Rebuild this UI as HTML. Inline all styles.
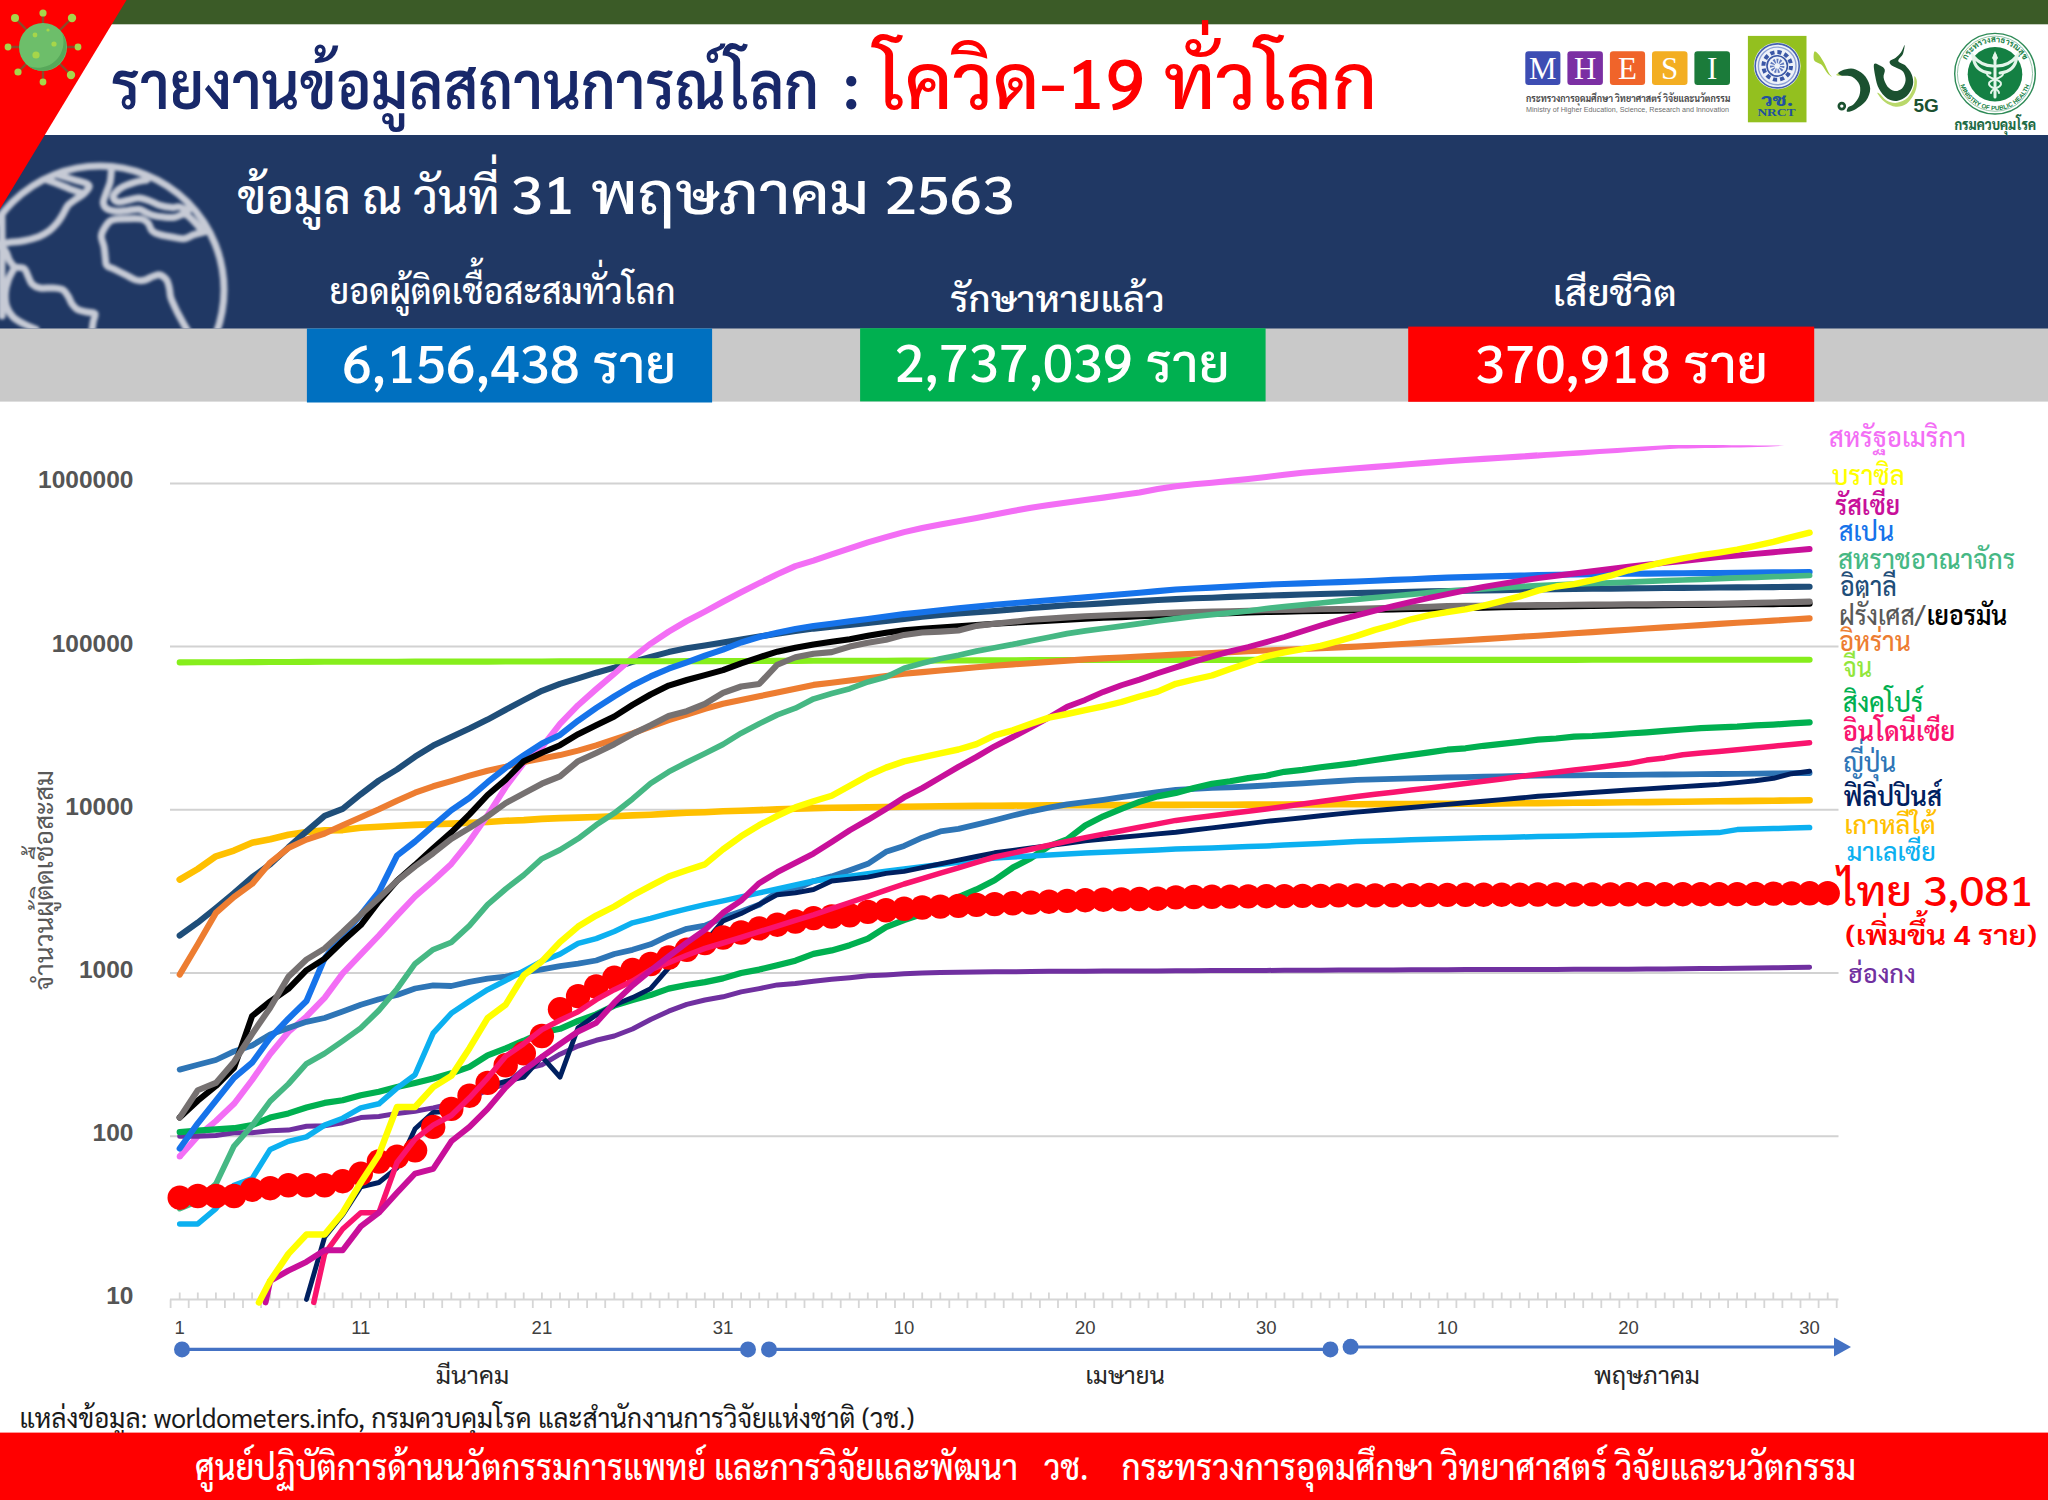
<!DOCTYPE html>
<html lang="th">
<head>
<meta charset="utf-8">
<title>รายงานข้อมูลสถานการณ์โลก : โควิด-19 ทั่วโลก</title>
<style>
html,body{margin:0;padding:0;background:#fff;}
body{width:2048px;height:1500px;overflow:hidden;position:relative;font-family:"Sarabun","Liberation Sans","Loma","Noto Sans Thai",sans-serif;}
svg{position:absolute;left:0;top:0;display:block;}
.th{font-family:"Sarabun","Liberation Sans","Loma","Noto Sans Thai",sans-serif;}
.ls{font-family:"Liberation Sans","Sarabun",sans-serif;}
.se{font-family:"Liberation Serif","Sarabun",serif;}
</style>
</head>
<body>
<svg width="2048" height="1500" viewBox="0 0 2048 1500">
<defs>
<filter id="blur1" x="-5%" y="-5%" width="110%" height="110%"><feGaussianBlur stdDeviation="1.4"/></filter>
<clipPath id="navyclip"><rect x="0" y="135" width="2048" height="193.5"/></clipPath>
<clipPath id="globeclip"><circle cx="100" cy="290" r="126"/></clipPath>
</defs>
<!-- backgrounds -->
<rect x="0" y="0" width="2048" height="1500" fill="#ffffff"/>
<rect x="0" y="0" width="2048" height="24.3" fill="#3B5B27"/>
<rect x="0" y="135" width="2048" height="194" fill="#203864"/>
<rect x="0" y="328.5" width="2048" height="73.1" fill="#C9C9C9"/>
<!-- globe -->
<g clip-path="url(#navyclip)"><g filter="url(#blur1)" fill="none" stroke="#C6CAD5" stroke-width="7" stroke-linejoin="round" stroke-linecap="round">
<circle cx="100" cy="290" r="124"/>
<g clip-path="url(#globeclip)">
<path d="M146.7 180.0 C144.7 180.4 138.7 181.2 134.7 182.4 C130.7 183.6 125.9 185.2 122.7 186.9 C119.4 188.6 116.9 190.8 115.3 192.7 C113.8 194.5 112.8 196.4 113.3 198.0 C113.9 199.6 116.2 201.6 118.7 202.0 C121.1 202.4 124.7 200.9 128.0 200.3 C131.3 199.6 135.1 197.9 138.7 198.0 C142.2 198.1 145.8 199.4 149.3 200.7 C152.9 201.9 156.2 204.2 160.0 205.3 C163.8 206.5 168.8 207.3 172.0 207.6 C175.2 207.9 176.7 206.4 179.3 206.9 C182.0 207.4 186.6 210.0 188.0 210.7"/>
<path d="M111.3 171.3 C111.1 173.2 110.9 179.0 110.0 182.7 C109.1 186.3 107.1 190.0 106.0 193.3 C104.9 196.7 103.2 200.1 103.3 202.7 C103.4 205.2 104.6 207.2 106.7 208.7 C108.8 210.1 112.4 211.0 116.0 211.3 C119.6 211.6 124.2 210.7 128.0 210.4 C131.8 210.1 135.6 209.0 138.7 209.3 C141.8 209.7 144.2 211.7 146.7 212.7 C149.1 213.7 150.4 214.6 153.3 215.3 C156.2 216.1 160.4 216.7 164.0 217.1 C167.6 217.4 171.2 217.8 174.7 217.3 C178.1 216.8 181.8 213.8 184.7 214.1 C187.6 214.5 189.4 217.0 192.0 219.3 C194.6 221.6 198.7 226.6 200.0 228.0"/>
<path d="M58.0 174.9 C60.8 175.8 70.0 178.6 74.7 180.0 C79.3 181.4 83.6 182.2 86.0 183.3 C88.4 184.5 89.6 185.0 89.1 186.9 C88.5 188.8 85.1 192.5 82.7 194.7 C80.3 196.8 77.1 198.2 74.7 200.0 C72.2 201.8 70.0 202.9 68.0 205.3 C66.0 207.8 64.4 211.8 62.7 214.7 C60.9 217.6 59.6 220.0 57.3 222.7 C55.1 225.3 52.4 228.3 49.3 230.7 C46.2 233.0 42.9 235.0 38.7 236.7 C34.4 238.3 29.1 239.7 24.0 240.7 C18.9 241.7 12.4 242.1 8.0 242.7 C3.6 243.3 -0.9 244.0 -2.7 244.3"/>
<path d="M42.7 178.4 C45.1 179.3 52.9 182.0 57.3 183.7 C61.8 185.4 65.6 187.2 69.3 188.7 C73.1 190.1 78.2 191.7 80.0 192.3"/>
<path d="M209.3 230.7 C208.2 230.9 205.3 231.6 202.7 232.3 C200.0 233.0 196.4 233.9 193.3 234.9 C190.2 236.0 187.3 238.3 184.0 238.7 C180.7 239.1 177.3 238.0 173.3 237.3 C169.3 236.7 163.6 235.8 160.0 234.7 C156.4 233.6 154.0 232.6 152.0 230.7 C150.0 228.7 149.8 224.9 148.0 222.9 C146.2 221.0 144.9 219.6 141.3 218.9 C137.8 218.2 131.6 218.5 126.7 218.7 C121.8 218.8 115.6 218.7 112.0 220.0 C108.4 221.3 107.1 224.0 105.3 226.7 C103.6 229.3 101.6 232.7 101.3 236.0 C101.1 239.3 103.3 243.1 104.0 246.7 C104.7 250.2 104.9 254.2 105.3 257.3 C105.8 260.4 105.1 263.3 106.7 265.3 C108.2 267.3 111.6 267.8 114.7 269.3 C117.8 270.9 121.8 272.9 125.3 274.7 C128.9 276.4 132.9 279.1 136.0 280.0 C139.1 280.9 141.1 280.9 144.0 280.3 C146.9 279.6 150.7 277.2 153.3 276.3 C156.0 275.4 157.8 274.3 160.0 274.9 C162.2 275.6 165.1 277.8 166.7 280.0 C168.2 282.2 168.7 285.1 169.3 288.0 C170.0 290.9 169.8 294.2 170.7 297.3 C171.6 300.4 173.1 303.3 174.7 306.7 C176.2 310.0 178.2 314.0 180.0 317.3 C181.8 320.7 183.8 324.0 185.3 326.7 C186.9 329.3 188.7 332.2 189.3 333.3"/>
<path d="M-2.7 245.3 C-1.3 246.2 3.3 248.2 5.3 250.7 C7.3 253.1 7.8 257.3 9.3 260.0 C10.9 262.7 12.2 265.3 14.7 266.7 C17.1 268.0 21.8 266.7 24.0 268.3 C26.2 269.8 26.7 273.4 28.0 276.0 C29.3 278.6 30.0 282.0 32.0 284.0 C34.0 286.0 36.4 287.3 40.0 288.0 C43.6 288.7 49.6 287.7 53.3 288.0 C57.1 288.3 60.2 288.3 62.7 289.6 C65.1 290.9 66.4 293.6 68.0 296.0 C69.6 298.4 70.4 301.8 72.0 304.0 C73.6 306.2 74.9 308.0 77.3 309.3 C79.8 310.7 83.7 311.3 86.7 312.0 C89.6 312.7 93.8 312.0 94.9 313.6 C96.0 315.2 93.9 318.3 93.3 321.3 C92.8 324.4 92.0 330.2 91.7 332.0"/>
<path d="M14.7 267.3 C13.6 269.4 9.8 275.7 8.3 280.0 C6.7 284.3 5.6 288.9 5.3 293.3 C5.1 297.8 5.3 302.7 6.7 306.7 C8.0 310.7 10.4 314.4 13.3 317.3 C16.2 320.2 20.2 322.0 24.0 324.0 C27.8 326.0 34.0 328.4 36.0 329.3"/>
<path d="M1.9 214.7 C1.9 220.0 2.1 236.9 2.1 246.7 C2.1 256.4 1.9 261.8 1.9 273.3 C1.9 284.9 2.1 308.9 2.1 316.0"/>
</g></g></g>
<!-- red corner -->
<path d="M0 0 L126.5 0 L0 209 Z" fill="#FF0000"/>
<!-- virus icon -->
<g>
<g stroke="#8B4A2B" stroke-width="2.4" stroke-linecap="round">
<line x1="43" y1="47" x2="43" y2="14"/><line x1="43" y1="47" x2="71" y2="19"/><line x1="43" y1="47" x2="77" y2="47"/><line x1="43" y1="47" x2="70" y2="74"/>
<line x1="43" y1="47" x2="43" y2="81"/><line x1="43" y1="47" x2="19" y2="71"/><line x1="43" y1="47" x2="9" y2="47"/><line x1="43" y1="47" x2="16" y2="19"/>
</g>
<g fill="#A6D64A">
<circle cx="43" cy="13" r="3.6"/><circle cx="72" cy="18" r="4.2"/><circle cx="78" cy="47" r="3.4"/><circle cx="71" cy="75" r="4.2"/>
<circle cx="43" cy="82" r="3.4"/><circle cx="18" cy="72" r="3.6"/><circle cx="8" cy="47" r="3.4"/><circle cx="15" cy="18" r="4"/>
</g>
<circle cx="43" cy="47" r="24" fill="#6DBE6A"/>
<path d="M62 33 A24 24 0 0 1 28 66 A26 26 0 0 0 62 33Z" fill="#57A85A"/>
<g fill="#A6D64A"><circle cx="35" cy="35" r="2.4"/><circle cx="54" cy="44" r="2.6"/><circle cx="36" cy="55" r="3.6"/><circle cx="48" cy="30" r="1.6"/></g>
</g>
<!-- title -->
<text class="th" x="111" y="109.4" font-size="66.6" font-weight="600" fill="#18286A" textLength="708" lengthAdjust="spacingAndGlyphs">รายงานข้อมูลสถานการณ์โลก</text>
<text class="th" x="842" y="109.4" font-size="66.6" font-weight="600" fill="#18286A">:</text>
<text class="th" x="874.8" y="109.4" font-size="76.4" font-weight="500" fill="#FF0000" textLength="502.5" lengthAdjust="spacingAndGlyphs">โควิด-<tspan font-size="69.7">19</tspan> ทั่วโลก</text>
<!-- date line -->
<text class="th" x="237.5" y="213.5" font-size="48.4" font-weight="500" fill="#ffffff" textLength="262" lengthAdjust="spacingAndGlyphs">ข้อมูล ณ วันที่</text>
<text class="th" x="510.5" y="213.5" font-size="57.5" font-weight="500" fill="#ffffff" textLength="504" lengthAdjust="spacingAndGlyphs"><tspan font-size="52.7">31</tspan> พฤษภาคม <tspan font-size="52.7">2563</tspan></text>
<!-- stat labels -->
<text class="th" x="329.6" y="304" font-size="36.4" font-weight="500" fill="#ffffff" textLength="345.8" lengthAdjust="spacingAndGlyphs">ยอดผู้ติดเชื้อสะสมทั่วโลก</text>
<text class="th" x="950" y="311.6" font-size="36.4" font-weight="500" fill="#ffffff" textLength="214.8" lengthAdjust="spacingAndGlyphs">รักษาหายแล้ว</text>
<text class="th" x="1552.8" y="306.2" font-size="36.4" font-weight="500" fill="#ffffff" textLength="124" lengthAdjust="spacingAndGlyphs">เสียชีวิต</text>
<!-- stat boxes -->
<rect x="306.9" y="328.5" width="405.2" height="74" fill="#0070C0"/>
<rect x="860.1" y="328.2" width="405.5" height="73.2" fill="#00B050"/>
<rect x="1408.2" y="326.6" width="406" height="75.2" fill="#FF0000"/>
<text class="th" x="342" y="382.9" font-size="52" font-weight="500" fill="#ffffff" textLength="334.4" lengthAdjust="spacingAndGlyphs">6,156,438 ราย</text>
<text class="th" x="894.6" y="382" font-size="52" font-weight="500" fill="#ffffff" textLength="335.2" lengthAdjust="spacingAndGlyphs">2,737,039 ราย</text>
<text class="th" x="1474.8" y="382.9" font-size="52" font-weight="500" fill="#ffffff" textLength="293.4" lengthAdjust="spacingAndGlyphs">370,918 ราย</text>
<!-- logos -->
<g>
<rect x="1525.3" y="51.2" width="35.1" height="33.7" rx="3.2" fill="#3D4DB3"/><rect x="1567.4" y="51.2" width="35.5" height="33.7" rx="3.2" fill="#7B2FA3"/>
<rect x="1609.9" y="51.2" width="35.2" height="33.7" rx="3.2" fill="#F0642A"/><rect x="1652" y="51.2" width="35.5" height="33.7" rx="3.2" fill="#F3AE22"/>
<rect x="1694.4" y="51.2" width="35.6" height="33.7" rx="3.2" fill="#1B7B3A"/>
<g class="se" font-size="31" fill="#ffffff" text-anchor="middle">
<text x="1542.8" y="79.2">M</text><text x="1585.1" y="79.2">H</text><text x="1627.5" y="79.2">E</text><text x="1669.7" y="79.2">S</text><text x="1712.2" y="79.2">I</text></g>
<text class="th" x="1526" y="101.8" font-size="9.8" font-weight="700" fill="#4a4a4a" textLength="204.3" lengthAdjust="spacingAndGlyphs">กระทรวงการอุดมศึกษา วิทยาศาสตร์ วิจัยและนวัตกรรม</text>
<text class="ls" x="1526" y="112.2" font-size="6.3" fill="#6e6e6e" textLength="203" lengthAdjust="spacingAndGlyphs">Ministry of Higher Education, Science, Research and Innovation</text>
</g>
<g>
<rect x="1747.9" y="35.9" width="58.6" height="86.4" fill="#93C01F"/>
<circle cx="1777.2" cy="65.9" r="23.4" fill="#EEF2F9"/>
<circle cx="1777.2" cy="65.9" r="22" fill="none" stroke="#4661AE" stroke-width="1.6"/>
<circle cx="1777.2" cy="65.9" r="18.8" fill="none" stroke="#8FA3D6" stroke-width="1.4"/>
<circle cx="1777.2" cy="65.9" r="13.8" fill="none" stroke="#3A57A6" stroke-width="4" stroke-dasharray="4.2 3"/>
<circle cx="1777.2" cy="65.9" r="10.2" fill="none" stroke="#3A57A6" stroke-width="1.6"/>
<circle cx="1777.2" cy="65.9" r="5" fill="none" stroke="#5F78BE" stroke-width="4.5" stroke-dasharray="1.6 1.2"/>
<text class="th" x="1761" y="106" font-size="17.5" font-weight="800" fill="#21509F" textLength="32.3" lengthAdjust="spacingAndGlyphs">วช.</text>
<text class="se" x="1757.4" y="115.7" font-size="10.2" font-weight="700" fill="#21509F" textLength="38.1" lengthAdjust="spacingAndGlyphs">NRCT</text>
</g>
<g>
<path d="M1814.5 51.6 C1815.4 50.7 1817.8 53.3 1819.4 55.2 C1821.0 57.2 1822.7 60.3 1824.2 63.1 C1825.7 65.9 1827.2 69.9 1828.5 72.2 C1829.7 74.5 1831.9 76.5 1831.7 76.7 C1831.5 76.8 1828.9 75.0 1827.2 73.0 C1825.6 71.1 1824.0 67.0 1821.8 64.9 C1819.6 62.8 1815.5 62.7 1814.3 60.5 C1813.1 58.2 1813.7 52.5 1814.5 51.6Z" fill="#A9CF3F"/>
<path d="M1836.3 74.6 C1836.9 73.8 1840.8 71.3 1843.6 70.6 C1846.4 69.9 1850.2 69.4 1853.3 70.4 C1856.4 71.4 1860.0 73.4 1862.4 76.4 C1864.7 79.5 1867.1 84.5 1867.2 88.5 C1867.3 92.6 1865.3 97.2 1863.0 100.7 C1860.6 104.1 1855.5 107.5 1853.3 109.1 C1851.1 110.7 1849.2 111.4 1849.6 110.3 C1850.1 109.3 1853.9 105.9 1855.7 103.1 C1857.5 100.3 1859.9 96.8 1860.5 93.4 C1861.2 90.0 1861.0 85.6 1859.3 82.5 C1857.7 79.4 1854.1 75.7 1850.9 74.6 C1847.6 73.5 1842.4 75.8 1840.0 75.8 C1837.5 75.8 1835.7 75.5 1836.3 74.6Z" fill="#B9D86A"/>
<path d="M1877.5 93.4 C1878.3 94.7 1881.7 99.6 1884.8 101.9 C1887.8 104.1 1892.0 106.4 1895.7 106.7 C1899.3 107.0 1903.3 106.1 1906.6 103.7 C1909.8 101.3 1913.3 95.9 1915.0 92.2 C1916.8 88.4 1917.0 83.9 1916.9 81.3 C1916.8 78.7 1914.9 75.6 1914.4 76.4 C1913.9 77.2 1914.9 82.6 1913.8 86.1 C1912.7 89.7 1910.6 94.8 1907.8 97.6 C1904.9 100.4 1900.4 102.4 1896.9 102.8 C1893.3 103.3 1889.4 101.9 1886.6 100.4 C1883.8 98.9 1881.4 95.2 1879.9 94.0 C1878.4 92.8 1876.7 92.1 1877.5 93.4Z" fill="#B9D86A"/>
<path d="M1838.5 72.6 C1839.3 71.5 1843.2 69.7 1846.0 69.2 C1848.9 68.6 1852.5 68.2 1855.7 69.4 C1858.9 70.6 1863.0 73.2 1865.4 76.4 C1867.8 79.6 1870.1 84.5 1870.2 88.5 C1870.3 92.6 1868.5 97.2 1866.0 100.7 C1863.5 104.1 1858.2 107.5 1855.1 109.4 C1852.0 111.2 1848.4 112.1 1847.2 111.8 C1846.1 111.5 1847.1 108.6 1848.2 107.3 C1849.3 106.0 1852.0 106.0 1853.9 104.0 C1855.7 102.1 1858.4 99.0 1859.3 95.8 C1860.3 92.6 1860.8 88.1 1859.6 84.9 C1858.4 81.7 1855.1 78.3 1852.1 76.7 C1849.0 75.1 1843.4 76.2 1841.2 75.5 C1838.9 74.8 1837.7 73.6 1838.5 72.6Z" fill="#1B5130"/>
<circle cx="1841.8" cy="106.1" r="3" fill="#ffffff" stroke="#1B5130" stroke-width="2.6"/>
<path d="M1874.1 64.1 C1875.0 62.3 1878.8 64.8 1880.5 65.8 C1882.3 66.7 1884.3 67.8 1884.8 69.8 C1885.3 71.8 1883.1 74.9 1883.6 77.6 C1884.0 80.4 1885.6 84.1 1887.4 86.4 C1889.3 88.6 1892.3 90.6 1894.7 91.0 C1897.1 91.3 1900.1 90.3 1902.0 88.5 C1903.8 86.8 1905.4 83.1 1905.6 80.3 C1905.8 77.5 1904.6 73.9 1903.2 71.8 C1901.7 69.8 1898.9 69.1 1896.9 68.0 C1894.9 66.8 1892.2 66.1 1891.1 64.9 C1889.9 63.8 1889.1 62.1 1889.9 60.9 C1890.6 59.7 1893.8 59.1 1895.7 57.7 C1897.5 56.2 1899.6 54.3 1901.1 52.2 C1902.6 50.1 1904.3 44.7 1904.6 45.0 C1904.9 45.3 1904.0 51.4 1902.9 54.0 C1901.9 56.7 1897.9 59.0 1898.3 60.9 C1898.7 62.9 1903.1 63.3 1905.4 65.5 C1907.6 67.8 1910.4 71.0 1911.6 74.3 C1912.9 77.5 1913.7 81.3 1912.9 84.9 C1912.1 88.5 1909.5 93.4 1906.8 96.1 C1904.1 98.7 1900.1 100.5 1896.9 100.9 C1893.6 101.3 1890.2 100.5 1887.2 98.5 C1884.2 96.5 1880.9 92.5 1879.0 88.8 C1877.0 85.1 1876.1 80.6 1875.3 76.4 C1874.5 72.3 1873.2 65.9 1874.1 64.1Z" fill="#1B5130"/>
</g>
<text class="ls" x="1913.5" y="111.6" font-size="19" font-weight="700" fill="#1B5130">5G</text>
<g>
<circle cx="1995" cy="73.7" r="40.3" fill="#ffffff" stroke="#2E8B57" stroke-width="1.4"/>
<circle cx="1995" cy="73.7" r="37.6" fill="none" stroke="#7DB896" stroke-width="0.8"/>
<circle cx="1995" cy="74.3" r="27.3" fill="#148043"/>
<path id="arcTop" d="M1963.5 73.7 A31.5 31.5 0 0 1 2026.5 73.7" fill="none"/>
<path id="arcBot" d="M1958.5 73.7 A36.5 36.5 0 0 0 2031.5 73.7" fill="none"/>
<text class="th" font-size="8.2" font-weight="700" fill="#148043"><textPath href="#arcTop" startOffset="50%" text-anchor="middle">กระทรวงสาธารณสุข</textPath></text>
<text class="ls" font-size="6.2" font-weight="700" fill="#148043"><textPath href="#arcBot" startOffset="50%" text-anchor="middle">MINISTRY OF PUBLIC HEALTH</textPath></text>
<g fill="none" stroke="#E4F5EA" stroke-linecap="round">
<path d="M1995 55 L1995 97" stroke-width="3"/>
<path d="M1993 66 C1985 66 1978 62 1973 56 C1974 66 1980 72 1990 73" stroke-width="3"/>
<path d="M1997 66 C2005 66 2012 62 2017 56 C2016 66 2010 72 2000 73" stroke-width="3"/>
<path d="M1987 74 C1987 79 2002 79 2001 84 C2000 89 1991 88 1991 93" stroke-width="2"/>
<path d="M2003 74 C2003 79 1988 79 1989 84 C1990 89 1999 88 1999 93" stroke-width="2"/>
</g>
<path d="M1995 51 L1998 58 L1995 62 L1992 58Z" fill="#E4F5EA"/>
<text class="th" x="1954.4" y="129.7" font-size="14.5" font-weight="800" fill="#1E6B45" textLength="81.7" lengthAdjust="spacingAndGlyphs">กรมควบคุมโรค</text>
</g>
<!-- chart -->
<line x1="170" y1="1136.2" x2="1838.5" y2="1136.2" stroke="#D2D2D2" stroke-width="2"/>
<line x1="170" y1="973.0" x2="1838.5" y2="973.0" stroke="#D2D2D2" stroke-width="2"/>
<line x1="170" y1="809.8" x2="1838.5" y2="809.8" stroke="#D2D2D2" stroke-width="2"/>
<line x1="170" y1="646.6" x2="1838.5" y2="646.6" stroke="#D2D2D2" stroke-width="2"/>
<line x1="170" y1="483.4" x2="1838.5" y2="483.4" stroke="#D2D2D2" stroke-width="2"/>
<line x1="170" y1="1299.4" x2="1838.5" y2="1299.4" stroke="#D6D6D6" stroke-width="2"/>
<path d="M170.6 1299.4v8.5M179.7 1299.4v-7M188.7 1299.4v8.5M197.8 1299.4v-7M206.8 1299.4v8.5M215.9 1299.4v-7M224.9 1299.4v8.5M234.0 1299.4v-7M243.0 1299.4v8.5M252.1 1299.4v-7M261.1 1299.4v8.5M270.2 1299.4v-7M279.3 1299.4v8.5M288.3 1299.4v-7M297.4 1299.4v8.5M306.4 1299.4v-7M315.5 1299.4v8.5M324.5 1299.4v-7M333.6 1299.4v8.5M342.6 1299.4v-7M351.7 1299.4v8.5M360.8 1299.4v-7M369.8 1299.4v8.5M378.9 1299.4v-7M387.9 1299.4v8.5M397.0 1299.4v-7M406.0 1299.4v8.5M415.1 1299.4v-7M424.1 1299.4v8.5M433.2 1299.4v-7M442.2 1299.4v8.5M451.3 1299.4v-7M460.4 1299.4v8.5M469.4 1299.4v-7M478.5 1299.4v8.5M487.5 1299.4v-7M496.6 1299.4v8.5M505.6 1299.4v-7M514.7 1299.4v8.5M523.7 1299.4v-7M532.8 1299.4v8.5M541.9 1299.4v-7M550.9 1299.4v8.5M560.0 1299.4v-7M569.0 1299.4v8.5M578.1 1299.4v-7M587.1 1299.4v8.5M596.2 1299.4v-7M605.2 1299.4v8.5M614.3 1299.4v-7M623.4 1299.4v8.5M632.4 1299.4v-7M641.5 1299.4v8.5M650.5 1299.4v-7M659.6 1299.4v8.5M668.6 1299.4v-7M677.7 1299.4v8.5M686.7 1299.4v-7M695.8 1299.4v8.5M704.8 1299.4v-7M713.9 1299.4v8.5M723.0 1299.4v-7M732.0 1299.4v8.5M741.1 1299.4v-7M750.1 1299.4v8.5M759.2 1299.4v-7M768.2 1299.4v8.5M777.3 1299.4v-7M786.3 1299.4v8.5M795.4 1299.4v-7M804.5 1299.4v8.5M813.5 1299.4v-7M822.6 1299.4v8.5M831.6 1299.4v-7M840.7 1299.4v8.5M849.7 1299.4v-7M858.8 1299.4v8.5M867.8 1299.4v-7M876.9 1299.4v8.5M885.9 1299.4v-7M895.0 1299.4v8.5M904.1 1299.4v-7M913.1 1299.4v8.5M922.2 1299.4v-7M931.2 1299.4v8.5M940.3 1299.4v-7M949.3 1299.4v8.5M958.4 1299.4v-7M967.4 1299.4v8.5M976.5 1299.4v-7M985.5 1299.4v8.5M994.6 1299.4v-7M1003.7 1299.4v8.5M1012.7 1299.4v-7M1021.8 1299.4v8.5M1030.8 1299.4v-7M1039.9 1299.4v8.5M1048.9 1299.4v-7M1058.0 1299.4v8.5M1067.0 1299.4v-7M1076.1 1299.4v8.5M1085.2 1299.4v-7M1094.2 1299.4v8.5M1103.3 1299.4v-7M1112.3 1299.4v8.5M1121.4 1299.4v-7M1130.4 1299.4v8.5M1139.5 1299.4v-7M1148.5 1299.4v8.5M1157.6 1299.4v-7M1166.6 1299.4v8.5M1175.7 1299.4v-7M1184.8 1299.4v8.5M1193.8 1299.4v-7M1202.9 1299.4v8.5M1211.9 1299.4v-7M1221.0 1299.4v8.5M1230.0 1299.4v-7M1239.1 1299.4v8.5M1248.1 1299.4v-7M1257.2 1299.4v8.5M1266.3 1299.4v-7M1275.3 1299.4v8.5M1284.4 1299.4v-7M1293.4 1299.4v8.5M1302.5 1299.4v-7M1311.5 1299.4v8.5M1320.6 1299.4v-7M1329.6 1299.4v8.5M1338.7 1299.4v-7M1347.7 1299.4v8.5M1356.8 1299.4v-7M1365.9 1299.4v8.5M1374.9 1299.4v-7M1384.0 1299.4v8.5M1393.0 1299.4v-7M1402.1 1299.4v8.5M1411.1 1299.4v-7M1420.2 1299.4v8.5M1429.2 1299.4v-7M1438.3 1299.4v8.5M1447.4 1299.4v-7M1456.4 1299.4v8.5M1465.5 1299.4v-7M1474.5 1299.4v8.5M1483.6 1299.4v-7M1492.6 1299.4v8.5M1501.7 1299.4v-7M1510.7 1299.4v8.5M1519.8 1299.4v-7M1528.8 1299.4v8.5M1537.9 1299.4v-7M1547.0 1299.4v8.5M1556.0 1299.4v-7M1565.1 1299.4v8.5M1574.1 1299.4v-7M1583.2 1299.4v8.5M1592.2 1299.4v-7M1601.3 1299.4v8.5M1610.3 1299.4v-7M1619.4 1299.4v8.5M1628.5 1299.4v-7M1637.5 1299.4v8.5M1646.6 1299.4v-7M1655.6 1299.4v8.5M1664.7 1299.4v-7M1673.7 1299.4v8.5M1682.8 1299.4v-7M1691.8 1299.4v8.5M1700.9 1299.4v-7M1709.9 1299.4v8.5M1719.0 1299.4v-7M1728.1 1299.4v8.5M1737.1 1299.4v-7M1746.2 1299.4v8.5M1755.2 1299.4v-7M1764.3 1299.4v8.5M1773.3 1299.4v-7M1782.4 1299.4v8.5M1791.4 1299.4v-7M1800.5 1299.4v8.5M1809.6 1299.4v-7M1818.6 1299.4v8.5M1827.7 1299.4v-7M1836.7 1299.4v8.5" stroke="#D6D6D6" stroke-width="1.8" fill="none"/>
<text x="133.5" y="488.4" text-anchor="end" font-family='"Liberation Sans", "Sarabun", sans-serif' font-weight="700" font-size="24.5" fill="#555555">1000000</text>
<text x="133.5" y="651.6" text-anchor="end" font-family='"Liberation Sans", "Sarabun", sans-serif' font-weight="700" font-size="24.5" fill="#555555">100000</text>
<text x="133.5" y="814.8" text-anchor="end" font-family='"Liberation Sans", "Sarabun", sans-serif' font-weight="700" font-size="24.5" fill="#555555">10000</text>
<text x="133.5" y="978.0" text-anchor="end" font-family='"Liberation Sans", "Sarabun", sans-serif' font-weight="700" font-size="24.5" fill="#555555">1000</text>
<text x="133.5" y="1141.2" text-anchor="end" font-family='"Liberation Sans", "Sarabun", sans-serif' font-weight="700" font-size="24.5" fill="#555555">100</text>
<text x="133.5" y="1304.4" text-anchor="end" font-family='"Liberation Sans", "Sarabun", sans-serif' font-weight="700" font-size="24.5" fill="#555555">10</text>
<text transform="translate(53.1,990.5) rotate(-90)" font-family='"Sarabun", "Liberation Sans", "Loma", "Noto Sans Thai", sans-serif' font-size="26" fill="#595959" textLength="220.6" lengthAdjust="spacingAndGlyphs">จำนวนผู้ติดเชื้อสะสม</text>
<text x="179.7" y="1334" text-anchor="middle" font-family='"Liberation Sans", "Sarabun", sans-serif' font-size="18.5" fill="#404040">1</text>
<text x="360.8" y="1334" text-anchor="middle" font-family='"Liberation Sans", "Sarabun", sans-serif' font-size="18.5" fill="#404040">11</text>
<text x="541.9" y="1334" text-anchor="middle" font-family='"Liberation Sans", "Sarabun", sans-serif' font-size="18.5" fill="#404040">21</text>
<text x="723.0" y="1334" text-anchor="middle" font-family='"Liberation Sans", "Sarabun", sans-serif' font-size="18.5" fill="#404040">31</text>
<text x="904.1" y="1334" text-anchor="middle" font-family='"Liberation Sans", "Sarabun", sans-serif' font-size="18.5" fill="#404040">10</text>
<text x="1085.2" y="1334" text-anchor="middle" font-family='"Liberation Sans", "Sarabun", sans-serif' font-size="18.5" fill="#404040">20</text>
<text x="1266.3" y="1334" text-anchor="middle" font-family='"Liberation Sans", "Sarabun", sans-serif' font-size="18.5" fill="#404040">30</text>
<text x="1447.4" y="1334" text-anchor="middle" font-family='"Liberation Sans", "Sarabun", sans-serif' font-size="18.5" fill="#404040">10</text>
<text x="1628.5" y="1334" text-anchor="middle" font-family='"Liberation Sans", "Sarabun", sans-serif' font-size="18.5" fill="#404040">20</text>
<text x="1809.6" y="1334" text-anchor="middle" font-family='"Liberation Sans", "Sarabun", sans-serif' font-size="18.5" fill="#404040">30</text>
<path d="M179.7 879.6 L197.8 869.0 L215.9 856.3 L234.0 850.6 L252.1 842.7 L270.2 839.3 L288.4 834.7 L306.5 832.0 L324.6 830.4 L342.7 830.1 L360.8 827.8 L378.9 826.8 L397.0 825.8 L415.1 824.9 L433.2 824.2 L451.3 823.6 L469.5 822.8 L487.6 822.0 L505.7 820.8 L523.8 820.1 L541.9 818.9 L560.0 818.1 L578.1 817.6 L596.2 817.0 L614.3 816.2 L632.5 815.4 L650.6 814.7 L668.7 813.6 L686.8 812.8 L704.9 812.2 L723.0 811.3 L741.1 810.7 L759.2 810.1 L777.3 809.4 L795.4 808.8 L813.5 808.1 L831.7 807.8 L849.8 807.6 L867.9 807.3 L886.0 807.0 L904.1 806.7 L922.2 806.5 L940.3 806.3 L958.4 806.1 L976.5 805.9 L994.6 805.7 L1012.8 805.6 L1030.9 805.5 L1049.0 805.4 L1067.1 805.3 L1085.2 805.2 L1103.3 805.1 L1121.4 805.1 L1139.5 805.0 L1157.6 804.9 L1175.8 804.9 L1193.9 804.8 L1212.0 804.8 L1230.1 804.7 L1248.2 804.6 L1266.3 804.6 L1284.4 804.5 L1302.5 804.4 L1320.6 804.4 L1338.7 804.3 L1356.8 804.2 L1375.0 804.1 L1393.1 804.1 L1411.2 804.0 L1429.3 803.9 L1447.4 803.9 L1465.5 803.7 L1483.6 803.6 L1501.7 803.4 L1519.8 803.3 L1538.0 803.1 L1556.1 802.9 L1574.2 802.8 L1592.3 802.6 L1610.4 802.5 L1628.5 802.3 L1646.6 802.1 L1664.7 801.9 L1682.8 801.7 L1700.9 801.5 L1719.0 801.3 L1737.2 801.1 L1755.3 800.9 L1773.4 800.7 L1791.5 800.5 L1809.6 800.3" fill="none" stroke="#FFC000" stroke-width="6.6" stroke-linejoin="round" stroke-linecap="round"/>
<path d="M179.7 935.6 L197.8 922.6 L215.9 908.0 L234.0 893.1 L252.1 877.3 L270.2 864.3 L288.4 847.4 L306.5 831.4 L324.6 815.9 L342.7 808.8 L360.8 794.2 L378.9 780.5 L397.0 769.5 L415.1 756.7 L433.2 745.6 L451.3 736.9 L469.5 728.5 L487.6 719.6 L505.7 709.7 L523.8 700.1 L541.9 690.8 L560.0 683.8 L578.1 678.3 L596.2 672.7 L614.3 667.6 L632.5 661.9 L650.6 656.9 L668.7 652.1 L686.8 648.3 L704.9 645.4 L723.0 642.6 L741.1 639.5 L759.2 636.5 L777.3 633.8 L795.4 631.0 L813.5 628.6 L831.7 626.6 L849.8 625.0 L867.9 623.0 L886.0 620.9 L904.1 619.0 L922.2 616.8 L940.3 614.9 L958.4 613.5 L976.5 612.2 L994.6 611.0 L1012.8 609.4 L1030.9 608.0 L1049.0 606.6 L1067.1 605.3 L1085.2 604.5 L1103.3 603.4 L1121.4 602.1 L1139.5 601.1 L1157.6 600.0 L1175.8 599.1 L1193.9 598.3 L1212.0 597.7 L1230.1 596.9 L1248.2 596.2 L1266.3 595.6 L1284.4 595.1 L1302.5 594.5 L1320.6 594.0 L1338.7 593.5 L1356.8 593.0 L1375.0 592.6 L1393.1 592.2 L1411.2 591.8 L1429.3 591.4 L1447.4 591.0 L1465.5 590.7 L1483.6 590.4 L1501.7 590.1 L1519.8 589.8 L1538.0 589.5 L1556.1 589.3 L1574.2 589.0 L1592.3 588.8 L1610.4 588.6 L1628.5 588.4 L1646.6 588.2 L1664.7 588.0 L1682.8 587.9 L1700.9 587.7 L1719.0 587.5 L1737.2 587.4 L1755.3 587.2 L1773.4 587.1 L1791.5 586.9 L1809.6 586.7" fill="none" stroke="#1F4E79" stroke-width="6.1" stroke-linejoin="round" stroke-linecap="round"/>
<path d="M179.7 1156.6 L197.8 1136.2 L215.9 1121.0 L234.0 1103.8 L252.1 1080.0 L270.2 1054.0 L288.4 1032.0 L306.5 1016.5 L324.6 997.9 L342.7 973.4 L360.8 954.3 L378.9 935.5 L397.0 915.6 L415.1 896.5 L433.2 880.7 L451.3 863.9 L469.5 841.3 L487.6 815.3 L505.7 787.0 L523.8 762.9 L541.9 747.1 L560.0 723.9 L578.1 705.2 L596.2 689.1 L614.3 673.7 L632.5 657.8 L650.6 643.7 L668.7 631.6 L686.8 621.0 L704.9 611.6 L723.0 601.7 L741.1 592.3 L759.2 583.1 L777.3 574.3 L795.4 566.1 L813.5 560.6 L831.7 554.4 L849.8 548.3 L867.9 542.4 L886.0 537.1 L904.1 532.1 L922.2 528.0 L940.3 524.4 L958.4 521.2 L976.5 518.0 L994.6 514.6 L1012.8 511.0 L1030.9 507.7 L1049.0 504.9 L1067.1 502.5 L1085.2 499.9 L1103.3 497.6 L1121.4 495.0 L1139.5 492.4 L1157.6 488.9 L1175.8 486.2 L1193.9 484.3 L1212.0 482.7 L1230.1 480.9 L1248.2 479.0 L1266.3 477.0 L1284.4 474.7 L1302.5 472.8 L1320.6 471.2 L1338.7 469.7 L1356.8 468.3 L1375.0 466.9 L1393.1 465.5 L1411.2 464.0 L1429.3 462.6 L1447.4 461.2 L1465.5 460.0 L1483.6 458.9 L1501.7 457.7 L1519.8 456.6 L1538.0 455.4" fill="none" stroke="#F36EF5" stroke-width="6.1" stroke-linejoin="round" stroke-linecap="butt"/>
<circle cx="179.7" cy="1156.6" r="3.0" fill="#F36EF5"/>
<path d="M1538.0 452.4 L1546.7 451.9 L1555.5 451.4 L1564.3 450.9 L1573.1 450.4 L1581.9 449.9 L1590.7 449.5 L1599.5 449.0 L1608.3 448.5 L1617.1 448.0 L1625.9 447.5 L1634.7 447.1 L1643.5 446.6 L1652.3 446.1 L1661.1 445.6 L1669.9 445.1 L1678.7 444.9 L1687.5 444.9 L1696.3 445.0 L1705.1 445.0 L1713.9 445.1 L1722.7 445.1 L1731.5 445.2 L1740.3 445.3 L1749.1 445.3 L1757.9 445.4 L1766.7 445.4 L1775.4 445.5 L1784.2 445.5 L1784.2 445.5 L1775.4 446.3 L1766.7 446.7 L1757.9 447.0 L1749.1 447.2 L1740.3 447.4 L1731.5 447.6 L1722.7 447.8 L1713.9 448.0 L1705.1 448.1 L1696.3 448.3 L1687.5 448.4 L1678.7 448.6 L1669.9 449.0 L1661.1 449.6 L1652.3 450.3 L1643.5 450.9 L1634.7 451.6 L1625.9 452.2 L1617.1 452.9 L1608.3 453.5 L1599.5 454.1 L1590.7 454.7 L1581.9 455.4 L1573.1 456.0 L1564.3 456.6 L1555.5 457.2 L1546.7 457.8 L1538.0 458.5 Z" fill="#F36EF5"/>
<path d="M179.7 662.4 L197.8 662.3 L215.9 662.2 L234.0 662.2 L252.1 662.1 L270.2 662.0 L288.4 662.0 L306.5 661.9 L324.6 661.8 L342.7 661.7 L360.8 661.7 L378.9 661.7 L397.0 661.7 L415.1 661.6 L433.2 661.6 L451.3 661.6 L469.5 661.6 L487.6 661.6 L505.7 661.5 L523.8 661.5 L541.9 661.5 L560.0 661.4 L578.1 661.4 L596.2 661.4 L614.3 661.3 L632.5 661.3 L650.6 661.2 L668.7 661.2 L686.8 661.1 L704.9 661.1 L723.0 661.1 L741.1 661.0 L759.2 661.0 L777.3 660.9 L795.4 660.9 L813.5 660.8 L831.7 660.8 L849.8 660.7 L867.9 660.7 L886.0 660.7 L904.1 660.6 L922.2 660.6 L940.3 660.5 L958.4 660.5 L976.5 660.4 L994.6 660.4 L1012.8 660.3 L1030.9 660.0 L1049.0 660.0 L1067.1 660.0 L1085.2 660.0 L1103.3 660.0 L1121.4 660.0 L1139.5 660.0 L1157.6 660.0 L1175.8 660.0 L1193.9 660.0 L1212.0 659.9 L1230.1 659.9 L1248.2 659.9 L1266.3 659.9 L1284.4 659.9 L1302.5 659.9 L1320.6 659.9 L1338.7 659.9 L1356.8 659.9 L1375.0 659.9 L1393.1 659.9 L1411.2 659.9 L1429.3 659.9 L1447.4 659.9 L1465.5 659.9 L1483.6 659.9 L1501.7 659.9 L1519.8 659.9 L1538.0 659.9 L1556.1 659.9 L1574.2 659.9 L1592.3 659.8 L1610.4 659.8 L1628.5 659.8 L1646.6 659.8 L1664.7 659.8 L1682.8 659.8 L1700.9 659.8 L1719.0 659.8 L1737.2 659.8 L1755.3 659.8 L1773.4 659.8 L1791.5 659.8 L1809.6 659.8" fill="none" stroke="#86EE1C" stroke-width="6.1" stroke-linejoin="round" stroke-linecap="round"/>
<path d="M179.7 974.6 L197.8 944.2 L215.9 912.9 L234.0 897.0 L252.1 883.9 L270.2 862.6 L288.4 848.1 L306.5 839.6 L324.6 833.5 L342.7 825.2 L360.8 817.3 L378.9 809.3 L397.0 800.7 L415.1 792.7 L433.2 786.3 L451.3 781.1 L469.5 775.7 L487.6 770.7 L505.7 766.6 L523.8 761.9 L541.9 758.5 L560.0 755.1 L578.1 750.6 L596.2 745.4 L614.3 739.4 L632.5 733.4 L650.6 726.6 L668.7 720.2 L686.8 714.6 L704.9 708.9 L723.0 703.8 L741.1 700.0 L759.2 696.3 L777.3 692.5 L795.4 688.7 L813.5 684.9 L831.7 682.7 L849.8 680.5 L867.9 678.2 L886.0 676.0 L904.1 673.7 L922.2 672.1 L940.3 670.5 L958.4 668.9 L976.5 667.3 L994.6 665.7 L1012.8 664.4 L1030.9 663.2 L1049.0 661.9 L1067.1 660.6 L1085.2 659.4 L1103.3 658.4 L1121.4 657.5 L1139.5 656.5 L1157.6 655.6 L1175.8 654.6 L1193.9 653.8 L1212.0 653.0 L1230.1 652.1 L1248.2 651.3 L1266.3 650.5 L1284.4 649.7 L1302.5 649.0 L1320.6 648.2 L1338.7 647.4 L1356.8 646.6 L1375.0 645.6 L1393.1 644.5 L1411.2 643.5 L1429.3 642.4 L1447.4 641.4 L1465.5 640.3 L1483.6 639.1 L1501.7 638.0 L1519.8 636.8 L1538.0 635.7 L1556.1 634.5 L1574.2 633.3 L1592.3 632.1 L1610.4 630.9 L1628.5 629.7 L1646.6 628.5 L1664.7 627.4 L1682.8 626.2 L1700.9 625.1 L1719.0 623.9 L1737.2 622.8 L1755.3 621.7 L1773.4 620.6 L1791.5 619.5 L1809.6 618.4" fill="none" stroke="#ED7D31" stroke-width="6.1" stroke-linejoin="round" stroke-linecap="round"/>
<path d="M179.7 1069.6 L197.8 1064.8 L215.9 1060.0 L234.0 1051.4 L252.1 1045.4 L270.2 1034.5 L288.4 1027.9 L306.5 1021.8 L324.6 1018.0 L342.7 1011.5 L360.8 1004.7 L378.9 999.2 L397.0 994.9 L415.1 988.5 L433.2 985.4 L451.3 986.0 L469.5 981.9 L487.6 978.6 L505.7 976.6 L523.8 972.5 L541.9 969.3 L560.0 966.2 L578.1 963.7 L596.2 960.5 L614.3 954.0 L632.5 949.8 L650.6 944.3 L668.7 935.7 L686.8 928.8 L704.9 925.6 L723.0 917.8 L741.1 911.4 L759.2 904.8 L777.3 891.9 L795.4 889.0 L813.5 881.2 L831.7 876.4 L849.8 870.3 L867.9 863.8 L886.0 851.8 L904.1 845.9 L922.2 837.7 L940.3 831.4 L958.4 828.8 L976.5 824.7 L994.6 820.3 L1012.8 815.5 L1030.9 811.3 L1049.0 807.7 L1067.1 804.4 L1085.2 802.2 L1103.3 799.8 L1121.4 797.2 L1139.5 794.7 L1157.6 792.1 L1175.8 790.0 L1193.9 788.8 L1212.0 787.9 L1230.1 787.3 L1248.2 786.5 L1266.3 785.5 L1284.4 784.4 L1302.5 783.3 L1320.6 782.1 L1338.7 781.0 L1356.8 779.9 L1375.0 779.4 L1393.1 778.9 L1411.2 778.4 L1429.3 778.0 L1447.4 777.5 L1465.5 777.1 L1483.6 776.7 L1501.7 776.3 L1519.8 776.0 L1538.0 775.6 L1556.1 775.4 L1574.2 775.3 L1592.3 775.1 L1610.4 775.0 L1628.5 774.8 L1646.6 774.6 L1664.7 774.5 L1682.8 774.3 L1700.9 774.1 L1719.0 774.0 L1737.2 773.8 L1755.3 773.6 L1773.4 773.4 L1791.5 773.2 L1809.6 773.0" fill="none" stroke="#2E75B6" stroke-width="5.8" stroke-linejoin="round" stroke-linecap="round"/>
<path d="M179.7 1136.2 L197.8 1136.2 L215.9 1135.5 L234.0 1132.7 L252.1 1132.7 L270.2 1130.7 L288.4 1130.1 L306.5 1126.3 L324.6 1125.7 L342.7 1122.7 L360.8 1117.6 L378.9 1116.5 L397.0 1113.4 L415.1 1111.3 L433.2 1107.9 L451.3 1103.8 L469.5 1099.4 L487.6 1089.6 L505.7 1084.0 L523.8 1069.3 L541.9 1064.8 L560.0 1054.2 L578.1 1046.0 L596.2 1040.3 L614.3 1036.0 L632.5 1029.0 L650.6 1019.5 L668.7 1011.2 L686.8 1004.4 L704.9 1000.0 L723.0 996.8 L741.1 991.9 L759.2 988.6 L777.3 984.9 L795.4 983.4 L813.5 981.2 L831.7 979.3 L849.8 977.7 L867.9 975.8 L886.0 974.9 L904.1 973.7 L922.2 972.9 L940.3 972.6 L958.4 972.3 L976.5 972.1 L994.6 971.8 L1012.8 971.7 L1030.9 971.5 L1049.0 971.3 L1067.1 971.2 L1085.2 971.2 L1103.3 971.1 L1121.4 971.0 L1139.5 970.9 L1157.6 970.9 L1175.8 970.8 L1193.9 970.7 L1212.0 970.6 L1230.1 970.5 L1248.2 970.4 L1266.3 970.4 L1284.4 970.3 L1302.5 970.2 L1320.6 970.2 L1338.7 970.1 L1356.8 970.0 L1375.0 969.9 L1393.1 969.9 L1411.2 969.8 L1429.3 969.7 L1447.4 969.7 L1465.5 969.6 L1483.6 969.6 L1501.7 969.5 L1519.8 969.5 L1538.0 969.4 L1556.1 969.4 L1574.2 969.3 L1592.3 969.3 L1610.4 969.2 L1628.5 969.2 L1646.6 969.1 L1664.7 968.9 L1682.8 968.8 L1700.9 968.6 L1719.0 968.5 L1737.2 968.2 L1755.3 968.0 L1773.4 967.8 L1791.5 967.6 L1809.6 967.3" fill="none" stroke="#7030A0" stroke-width="5.0" stroke-linejoin="round" stroke-linecap="round"/>
<path d="M179.7 1132.1 L197.8 1130.7 L215.9 1129.4 L234.0 1128.2 L252.1 1125.1 L270.2 1117.6 L288.4 1113.4 L306.5 1107.5 L324.6 1102.9 L342.7 1100.3 L360.8 1095.3 L378.9 1091.8 L397.0 1087.1 L415.1 1082.9 L433.2 1078.4 L451.3 1073.3 L469.5 1066.9 L487.6 1055.3 L505.7 1048.4 L523.8 1040.7 L541.9 1032.5 L560.0 1028.8 L578.1 1020.9 L596.2 1014.3 L614.3 1005.6 L632.5 1000.0 L650.6 995.1 L668.7 988.6 L686.8 985.0 L704.9 982.1 L723.0 978.4 L741.1 973.0 L759.2 969.6 L777.3 965.3 L795.4 960.7 L813.5 953.9 L831.7 950.4 L849.8 945.2 L867.9 938.7 L886.0 927.1 L904.1 920.1 L922.2 914.0 L940.3 907.2 L958.4 897.1 L976.5 889.4 L994.6 880.3 L1012.8 867.6 L1030.9 858.2 L1049.0 846.1 L1067.1 839.4 L1085.2 825.5 L1103.3 816.3 L1121.4 808.8 L1139.5 801.9 L1157.6 796.4 L1175.8 792.9 L1193.9 787.9 L1212.0 783.8 L1230.1 781.3 L1248.2 778.1 L1266.3 775.7 L1284.4 771.8 L1302.5 769.9 L1320.6 767.3 L1338.7 765.1 L1356.8 762.8 L1375.0 760.0 L1393.1 757.4 L1411.2 754.9 L1429.3 752.4 L1447.4 749.7 L1465.5 748.3 L1483.6 745.8 L1501.7 743.9 L1519.8 741.8 L1538.0 739.7 L1556.1 738.5 L1574.2 736.7 L1592.3 736.0 L1610.4 734.8 L1628.5 733.5 L1646.6 732.4 L1664.7 730.9 L1682.8 729.5 L1700.9 728.2 L1719.0 727.4 L1737.2 726.6 L1755.3 725.4 L1773.4 724.6 L1791.5 723.4 L1809.6 722.3" fill="none" stroke="#00B050" stroke-width="6.2" stroke-linejoin="round" stroke-linecap="round"/>
<path d="M179.7 1223.9 L197.8 1223.9 L215.9 1208.6 L234.0 1185.3 L252.1 1178.6 L270.2 1149.4 L288.4 1141.3 L306.5 1136.9 L324.6 1125.1 L342.7 1118.2 L360.8 1107.9 L378.9 1103.8 L397.0 1088.1 L415.1 1074.7 L433.2 1033.1 L451.3 1013.3 L469.5 1001.1 L487.6 989.7 L505.7 980.5 L523.8 970.9 L541.9 961.1 L560.0 954.1 L578.1 943.4 L596.2 938.6 L614.3 931.5 L632.5 922.8 L650.6 918.4 L668.7 913.4 L686.8 908.9 L704.9 904.6 L723.0 900.9 L741.1 896.9 L759.2 892.9 L777.3 889.0 L795.4 885.0 L813.5 881.0 L831.7 878.6 L849.8 876.1 L867.9 873.7 L886.0 871.3 L904.1 868.9 L922.2 866.7 L940.3 864.5 L958.4 862.3 L976.5 860.1 L994.6 857.9 L1012.8 857.0 L1030.9 856.0 L1049.0 855.1 L1067.1 854.1 L1085.2 853.1 L1103.3 852.3 L1121.4 851.5 L1139.5 850.7 L1157.6 849.9 L1175.8 849.1 L1193.9 848.5 L1212.0 847.9 L1230.1 847.2 L1248.2 846.6 L1266.3 846.0 L1284.4 845.1 L1302.5 844.2 L1320.6 843.4 L1338.7 842.5 L1356.8 841.6 L1375.0 841.0 L1393.1 840.4 L1411.2 839.8 L1429.3 839.2 L1447.4 838.7 L1465.5 838.2 L1483.6 837.8 L1501.7 837.4 L1519.8 837.0 L1538.0 836.6 L1556.1 836.2 L1574.2 835.9 L1592.3 835.6 L1610.4 835.3 L1628.5 835.0 L1646.6 834.5 L1664.7 834.0 L1682.8 833.6 L1700.9 833.1 L1719.0 832.6 L1737.2 829.6 L1755.3 829.1 L1773.4 828.6 L1791.5 828.1 L1809.6 827.6" fill="none" stroke="#0CB0F0" stroke-width="5.5" stroke-linejoin="round" stroke-linecap="round"/>
<path d="M179.7 1148.6 L197.8 1123.3 L215.9 1100.7 L234.0 1077.8 L252.1 1062.7 L270.2 1037.8 L288.4 1018.7 L306.5 1001.0 L324.6 958.3 L342.7 935.6 L360.8 914.7 L378.9 891.8 L397.0 855.7 L415.1 841.5 L433.2 825.7 L451.3 810.2 L469.5 797.9 L487.6 782.2 L505.7 767.8 L523.8 755.3 L541.9 743.5 L560.0 734.9 L578.1 720.7 L596.2 708.0 L614.3 696.4 L632.5 685.5 L650.6 676.4 L668.7 668.7 L686.8 662.3 L704.9 655.7 L723.0 649.6 L741.1 642.5 L759.2 637.0 L777.3 632.8 L795.4 629.1 L813.5 626.1 L831.7 623.7 L849.8 621.3 L867.9 618.9 L886.0 616.5 L904.1 614.1 L922.2 612.2 L940.3 610.3 L958.4 608.4 L976.5 606.6 L994.6 604.7 L1012.8 603.2 L1030.9 601.8 L1049.0 600.3 L1067.1 598.9 L1085.2 597.4 L1103.3 595.8 L1121.4 594.2 L1139.5 592.7 L1157.6 591.1 L1175.8 589.5 L1193.9 588.5 L1212.0 587.6 L1230.1 586.6 L1248.2 585.6 L1266.3 584.7 L1284.4 584.0 L1302.5 583.4 L1320.6 582.8 L1338.7 582.1 L1356.8 581.5 L1375.0 580.7 L1393.1 579.9 L1411.2 579.2 L1429.3 578.4 L1447.4 577.6 L1465.5 577.1 L1483.6 576.6 L1501.7 576.1 L1519.8 575.6 L1538.0 575.1 L1556.1 574.8 L1574.2 574.5 L1592.3 574.3 L1610.4 574.0 L1628.5 573.7 L1646.6 573.6 L1664.7 573.4 L1682.8 573.3 L1700.9 573.1 L1719.0 573.0 L1737.2 572.8 L1755.3 572.6 L1773.4 572.4 L1791.5 572.2 L1809.6 572.0" fill="none" stroke="#1673EA" stroke-width="6.1" stroke-linejoin="round" stroke-linecap="round"/>
<path d="M179.7 1117.6 L197.8 1100.7 L215.9 1086.0 L234.0 1067.9 L252.1 1016.0 L270.2 1001.4 L288.4 988.8 L306.5 970.2 L324.6 958.7 L342.7 941.3 L360.8 925.1 L378.9 901.4 L397.0 880.8 L415.1 864.9 L433.2 848.2 L451.3 832.4 L469.5 814.4 L487.6 795.0 L505.7 779.6 L523.8 761.2 L541.9 752.8 L560.0 745.2 L578.1 734.2 L596.2 725.2 L614.3 716.5 L632.5 704.9 L650.6 694.5 L668.7 685.6 L686.8 680.0 L704.9 675.1 L723.0 670.1 L741.1 663.3 L759.2 657.3 L777.3 651.7 L795.4 647.7 L813.5 644.5 L831.7 641.8 L849.8 639.2 L867.9 635.8 L886.0 632.8 L904.1 630.2 L922.2 628.8 L940.3 627.5 L958.4 626.4 L976.5 625.1 L994.6 623.8 L1012.8 622.7 L1030.9 621.7 L1049.0 620.7 L1067.1 619.6 L1085.2 618.6 L1103.3 617.8 L1121.4 617.1 L1139.5 616.3 L1157.6 615.6 L1175.8 614.8 L1193.9 614.3 L1212.0 613.7 L1230.1 613.1 L1248.2 612.5 L1266.3 612.0 L1284.4 611.6 L1302.5 611.3 L1320.6 610.9 L1338.7 610.6 L1356.8 610.2 L1375.0 609.8 L1393.1 609.4 L1411.2 609.0 L1429.3 608.6 L1447.4 608.2 L1465.5 607.9 L1483.6 607.6 L1501.7 607.3 L1519.8 607.0 L1538.0 606.7 L1556.1 606.4 L1574.2 606.2 L1592.3 606.0 L1610.4 605.8 L1628.5 605.5 L1646.6 605.4 L1664.7 605.2 L1682.8 605.0 L1700.9 604.9 L1719.0 604.7 L1737.2 604.5 L1755.3 604.3 L1773.4 604.1 L1791.5 603.9 L1809.6 603.7" fill="none" stroke="#000000" stroke-width="6.1" stroke-linejoin="round" stroke-linecap="round"/>
<path d="M179.7 1117.6 L197.8 1090.3 L215.9 1082.9 L234.0 1062.0 L252.1 1034.0 L270.2 1007.7 L288.4 976.7 L306.5 959.5 L324.6 948.5 L342.7 932.0 L360.8 914.6 L378.9 898.1 L397.0 881.0 L415.1 866.4 L433.2 853.2 L451.3 838.9 L469.5 828.0 L487.6 816.2 L505.7 803.1 L523.8 793.4 L541.9 783.7 L560.0 776.4 L578.1 761.2 L596.2 752.9 L614.3 744.2 L632.5 734.0 L650.6 725.3 L668.7 716.0 L686.8 711.2 L704.9 703.9 L723.0 692.8 L741.1 686.5 L759.2 683.9 L777.3 664.7 L795.4 657.3 L813.5 653.7 L831.7 652.1 L849.8 646.6 L867.9 642.8 L886.0 639.8 L904.1 634.9 L922.2 632.5 L940.3 631.6 L958.4 630.5 L976.5 625.9 L994.6 623.8 L1012.8 621.8 L1030.9 619.8 L1049.0 618.6 L1067.1 617.4 L1085.2 616.2 L1103.3 615.5 L1121.4 614.8 L1139.5 614.1 L1157.6 613.4 L1175.8 612.6 L1193.9 612.1 L1212.0 611.6 L1230.1 611.2 L1248.2 610.7 L1266.3 610.2 L1284.4 609.9 L1302.5 609.6 L1320.6 609.3 L1338.7 609.0 L1356.8 608.8 L1375.0 608.2 L1393.1 607.7 L1411.2 607.2 L1429.3 606.7 L1447.4 606.1 L1465.5 605.9 L1483.6 605.7 L1501.7 605.5 L1519.8 605.3 L1538.0 605.1 L1556.1 605.0 L1574.2 604.8 L1592.3 604.6 L1610.4 604.5 L1628.5 604.3 L1646.6 604.2 L1664.7 604.1 L1682.8 604.0 L1700.9 603.9 L1719.0 603.8 L1737.2 603.4 L1755.3 602.9 L1773.4 602.5 L1791.5 602.1 L1809.6 601.6" fill="none" stroke="#767171" stroke-width="6.1" stroke-linejoin="round" stroke-linecap="round"/>
<path d="M179.7 1208.6 L197.8 1201.1 L215.9 1183.9 L234.0 1146.1 L252.1 1125.7 L270.2 1101.1 L288.4 1084.0 L306.5 1063.7 L324.6 1053.5 L342.7 1041.0 L360.8 1028.0 L378.9 1010.4 L397.0 989.0 L415.1 963.7 L433.2 949.6 L451.3 942.3 L469.5 925.7 L487.6 904.6 L505.7 889.0 L523.8 875.0 L541.9 858.7 L560.0 849.9 L578.1 838.7 L596.2 824.9 L614.3 813.2 L632.5 798.9 L650.6 783.3 L668.7 771.8 L686.8 762.4 L704.9 753.5 L723.0 744.4 L741.1 733.2 L759.2 723.7 L777.3 714.9 L795.4 708.2 L813.5 698.9 L831.7 693.5 L849.8 688.7 L867.9 681.9 L886.0 677.0 L904.1 668.2 L922.2 663.3 L940.3 658.7 L958.4 655.2 L976.5 651.1 L994.6 647.7 L1012.8 644.4 L1030.9 640.7 L1049.0 637.2 L1067.1 633.6 L1085.2 630.9 L1103.3 628.5 L1121.4 626.1 L1139.5 623.7 L1157.6 621.0 L1175.8 618.6 L1193.9 616.5 L1212.0 614.6 L1230.1 612.8 L1248.2 611.0 L1266.3 608.5 L1284.4 606.6 L1302.5 604.8 L1320.6 603.0 L1338.7 601.1 L1356.8 599.3 L1375.0 597.6 L1393.1 596.0 L1411.2 594.3 L1429.3 592.6 L1447.4 591.0 L1465.5 589.9 L1483.6 588.8 L1501.7 587.7 L1519.8 586.6 L1538.0 585.5 L1556.1 584.9 L1574.2 584.2 L1592.3 583.5 L1610.4 582.8 L1628.5 582.1 L1646.6 581.4 L1664.7 580.7 L1682.8 580.0 L1700.9 579.3 L1719.0 578.6 L1737.2 577.9 L1755.3 577.3 L1773.4 576.7 L1791.5 576.1 L1809.6 575.5" fill="none" stroke="#46B884" stroke-width="5.7" stroke-linejoin="round" stroke-linecap="round"/>
<path d="M306.5 1299.4 L324.6 1237.3 L342.7 1214.8 L360.8 1186.8 L378.9 1182.5 L397.0 1167.8 L415.1 1128.8 L433.2 1112.4 L451.3 1111.3 L469.5 1091.8 L487.6 1086.4 L505.7 1081.3 L523.8 1077.2 L541.9 1056.7 L560.0 1077.2 L578.1 1027.7 L596.2 1015.1 L614.3 1005.1 L632.5 997.6 L650.6 988.6 L668.7 967.9 L686.8 948.2 L704.9 942.1 L723.0 921.0 L741.1 913.6 L759.2 904.4 L777.3 894.7 L795.4 892.9 L813.5 889.5 L831.7 881.0 L849.8 879.1 L867.9 877.1 L886.0 873.4 L904.1 871.4 L922.2 867.7 L940.3 863.9 L958.4 860.2 L976.5 856.5 L994.6 852.8 L1012.8 850.4 L1030.9 848.0 L1049.0 845.6 L1067.1 843.2 L1085.2 840.8 L1103.3 839.1 L1121.4 837.3 L1139.5 835.6 L1157.6 833.9 L1175.8 832.2 L1193.9 830.0 L1212.0 827.9 L1230.1 825.7 L1248.2 823.6 L1266.3 821.4 L1284.4 819.6 L1302.5 817.7 L1320.6 815.8 L1338.7 813.9 L1356.8 812.1 L1375.0 810.5 L1393.1 809.0 L1411.2 807.5 L1429.3 805.9 L1447.4 804.4 L1465.5 802.8 L1483.6 801.2 L1501.7 799.6 L1519.8 798.0 L1538.0 796.3 L1556.1 795.1 L1574.2 793.8 L1592.3 792.5 L1610.4 791.3 L1628.5 790.0 L1646.6 788.9 L1664.7 787.7 L1682.8 786.6 L1700.9 785.5 L1719.0 784.4 L1737.2 782.6 L1755.3 780.8 L1773.4 778.3 L1791.5 773.7 L1809.6 771.3" fill="none" stroke="#002060" stroke-width="4.9" stroke-linejoin="round" stroke-linecap="round"/>
<g fill="#FF0000"><circle cx="179.7" cy="1197.7" r="12.2"/><circle cx="197.8" cy="1196.0" r="12.2"/><circle cx="215.9" cy="1196.0" r="12.2"/><circle cx="234.0" cy="1196.0" r="12.2"/><circle cx="252.1" cy="1189.7" r="12.2"/><circle cx="270.2" cy="1188.2" r="12.2"/><circle cx="288.4" cy="1185.3" r="12.2"/><circle cx="306.5" cy="1185.3" r="12.2"/><circle cx="324.6" cy="1185.3" r="12.2"/><circle cx="342.7" cy="1181.2" r="12.2"/><circle cx="360.8" cy="1173.6" r="12.2"/><circle cx="378.9" cy="1161.5" r="12.2"/><circle cx="397.0" cy="1156.6" r="12.2"/><circle cx="415.1" cy="1150.3" r="12.2"/><circle cx="433.2" cy="1126.9" r="12.2"/><circle cx="451.3" cy="1108.9" r="12.2"/><circle cx="469.5" cy="1095.7" r="12.2"/><circle cx="487.6" cy="1082.9" r="12.2"/><circle cx="505.7" cy="1065.3" r="12.2"/><circle cx="523.8" cy="1053.3" r="12.2"/><circle cx="541.9" cy="1036.0" r="12.2"/><circle cx="560.0" cy="1009.3" r="12.2"/><circle cx="578.1" cy="996.2" r="12.2"/><circle cx="596.2" cy="986.5" r="12.2"/><circle cx="614.3" cy="977.8" r="12.2"/><circle cx="632.5" cy="969.9" r="12.2"/><circle cx="650.6" cy="964.0" r="12.2"/><circle cx="668.7" cy="957.5" r="12.2"/><circle cx="686.8" cy="949.8" r="12.2"/><circle cx="704.9" cy="943.1" r="12.2"/><circle cx="723.0" cy="937.5" r="12.2"/><circle cx="741.1" cy="932.5" r="12.2"/><circle cx="759.2" cy="928.4" r="12.2"/><circle cx="777.3" cy="924.7" r="12.2"/><circle cx="795.4" cy="921.5" r="12.2"/><circle cx="813.5" cy="918.1" r="12.2"/><circle cx="831.7" cy="916.5" r="12.2"/><circle cx="849.8" cy="915.3" r="12.2"/><circle cx="867.9" cy="911.9" r="12.2"/><circle cx="886.0" cy="910.3" r="12.2"/><circle cx="904.1" cy="908.8" r="12.2"/><circle cx="922.2" cy="907.5" r="12.2"/><circle cx="940.3" cy="906.6" r="12.2"/><circle cx="958.4" cy="905.9" r="12.2"/><circle cx="976.5" cy="904.9" r="12.2"/><circle cx="994.6" cy="904.1" r="12.2"/><circle cx="1012.8" cy="903.3" r="12.2"/><circle cx="1030.9" cy="902.6" r="12.2"/><circle cx="1049.0" cy="901.7" r="12.2"/><circle cx="1067.1" cy="900.9" r="12.2"/><circle cx="1085.2" cy="900.2" r="12.2"/><circle cx="1103.3" cy="899.7" r="12.2"/><circle cx="1121.4" cy="899.4" r="12.2"/><circle cx="1139.5" cy="899.0" r="12.2"/><circle cx="1157.6" cy="898.7" r="12.2"/><circle cx="1175.8" cy="897.4" r="12.2"/><circle cx="1193.9" cy="897.0" r="12.2"/><circle cx="1212.0" cy="896.8" r="12.2"/><circle cx="1230.1" cy="896.6" r="12.2"/><circle cx="1248.2" cy="896.4" r="12.2"/><circle cx="1266.3" cy="896.2" r="12.2"/><circle cx="1284.4" cy="896.1" r="12.2"/><circle cx="1302.5" cy="895.9" r="12.2"/><circle cx="1320.6" cy="895.9" r="12.2"/><circle cx="1338.7" cy="895.4" r="12.2"/><circle cx="1356.8" cy="895.4" r="12.2"/><circle cx="1375.0" cy="895.4" r="12.2"/><circle cx="1393.1" cy="895.3" r="12.2"/><circle cx="1411.2" cy="895.1" r="12.2"/><circle cx="1429.3" cy="895.0" r="12.2"/><circle cx="1447.4" cy="894.9" r="12.2"/><circle cx="1465.5" cy="894.8" r="12.2"/><circle cx="1483.6" cy="894.7" r="12.2"/><circle cx="1501.7" cy="894.7" r="12.2"/><circle cx="1519.8" cy="894.7" r="12.2"/><circle cx="1538.0" cy="894.5" r="12.2"/><circle cx="1556.1" cy="894.5" r="12.2"/><circle cx="1574.2" cy="894.5" r="12.2"/><circle cx="1592.3" cy="894.4" r="12.2"/><circle cx="1610.4" cy="894.4" r="12.2"/><circle cx="1628.5" cy="894.3" r="12.2"/><circle cx="1646.6" cy="894.3" r="12.2"/><circle cx="1664.7" cy="894.3" r="12.2"/><circle cx="1682.8" cy="894.2" r="12.2"/><circle cx="1700.9" cy="894.2" r="12.2"/><circle cx="1719.0" cy="894.1" r="12.2"/><circle cx="1737.2" cy="894.1" r="12.2"/><circle cx="1755.3" cy="893.9" r="12.2"/><circle cx="1773.4" cy="893.6" r="12.2"/><circle cx="1791.5" cy="893.4" r="12.2"/><circle cx="1809.6" cy="893.3" r="12.2"/><circle cx="1827.7" cy="893.2" r="12.2"/></g>
<path d="M313.8 1302.4 L324.6 1253.9 L342.7 1229.0 L360.8 1212.7 L378.9 1212.7 L397.0 1162.5 L415.1 1139.1 L433.2 1125.1 L451.3 1115.5 L469.5 1097.8 L487.6 1078.1 L505.7 1056.2 L523.8 1043.7 L541.9 1029.6 L560.0 1020.2 L578.1 1011.7 L596.2 999.7 L614.3 989.7 L632.5 981.0 L650.6 969.8 L668.7 962.8 L686.8 955.2 L704.9 948.4 L723.0 943.0 L741.1 937.3 L759.2 931.7 L777.3 926.1 L795.4 920.4 L813.5 914.8 L831.7 908.6 L849.8 902.5 L867.9 896.3 L886.0 890.1 L904.1 884.0 L922.2 878.6 L940.3 873.2 L958.4 867.8 L976.5 862.4 L994.6 857.0 L1012.8 853.1 L1030.9 849.2 L1049.0 845.3 L1067.1 841.4 L1085.2 837.6 L1103.3 834.1 L1121.4 830.7 L1139.5 827.3 L1157.6 823.9 L1175.8 820.4 L1193.9 818.1 L1212.0 815.8 L1230.1 813.6 L1248.2 811.3 L1266.3 809.0 L1284.4 806.5 L1302.5 804.0 L1320.6 801.5 L1338.7 799.0 L1356.8 796.5 L1375.0 794.3 L1393.1 792.2 L1411.2 790.1 L1429.3 787.9 L1447.4 785.8 L1465.5 783.5 L1483.6 781.2 L1501.7 778.9 L1519.8 776.6 L1538.0 774.3 L1556.1 772.2 L1574.2 770.0 L1592.3 767.9 L1610.4 765.7 L1628.5 763.6 L1646.6 760.1 L1664.7 757.9 L1682.8 754.7 L1700.9 753.1 L1719.0 751.5 L1737.2 749.8 L1755.3 748.0 L1773.4 746.2 L1791.5 744.5 L1809.6 742.7" fill="none" stroke="#F9146E" stroke-width="5.5" stroke-linejoin="round" stroke-linecap="round"/>
<path d="M265.6 1302.4 L270.2 1280.8 L288.4 1270.7 L306.5 1261.8 L324.6 1250.3 L342.7 1250.3 L360.8 1226.4 L378.9 1212.7 L397.0 1192.8 L415.1 1173.6 L433.2 1168.9 L451.3 1141.3 L469.5 1126.9 L487.6 1108.9 L505.7 1087.4 L523.8 1070.4 L541.9 1056.9 L560.0 1044.0 L578.1 1031.5 L596.2 1022.8 L614.3 1002.7 L632.5 985.4 L650.6 970.5 L668.7 956.4 L686.8 942.7 L704.9 929.9 L723.0 912.8 L741.1 900.6 L759.2 883.2 L777.3 872.2 L795.4 862.8 L813.5 853.6 L831.7 842.1 L849.8 830.2 L867.9 819.9 L886.0 808.9 L904.1 797.4 L922.2 788.1 L940.3 777.5 L958.4 766.9 L976.5 756.9 L994.6 746.3 L1012.8 737.0 L1030.9 727.3 L1049.0 717.5 L1067.1 706.7 L1085.2 699.9 L1103.3 691.9 L1121.4 685.2 L1139.5 679.6 L1157.6 673.3 L1175.8 667.4 L1193.9 661.6 L1212.0 656.4 L1230.1 651.3 L1248.2 647.0 L1266.3 642.1 L1284.4 637.0 L1302.5 631.3 L1320.6 625.5 L1338.7 620.1 L1356.8 615.4 L1375.0 610.7 L1393.1 606.1 L1411.2 601.9 L1429.3 597.9 L1447.4 594.1 L1465.5 590.3 L1483.6 586.9 L1501.7 583.9 L1519.8 581.0 L1538.0 578.1 L1556.1 575.8 L1574.2 573.5 L1592.3 571.3 L1610.4 569.0 L1628.5 566.7 L1646.6 564.8 L1664.7 562.9 L1682.8 561.0 L1700.9 559.0 L1719.0 557.1 L1737.2 555.5 L1755.3 553.9 L1773.4 552.2 L1791.5 550.6 L1809.6 549.0" fill="none" stroke="#C8109A" stroke-width="5.9" stroke-linejoin="round" stroke-linecap="round"/>
<path d="M258.9 1302.4 L270.2 1280.8 L288.4 1253.9 L306.5 1234.5 L324.6 1234.5 L342.7 1212.7 L360.8 1182.5 L378.9 1154.7 L397.0 1107.0 L415.1 1107.0 L433.2 1087.1 L451.3 1075.9 L469.5 1048.2 L487.6 1018.1 L505.7 1004.6 L523.8 975.2 L541.9 961.4 L560.0 942.1 L578.1 926.6 L596.2 915.6 L614.3 906.5 L632.5 895.5 L650.6 885.9 L668.7 876.5 L686.8 870.3 L704.9 864.4 L723.0 849.4 L741.1 836.3 L759.2 825.2 L777.3 815.8 L795.4 807.3 L813.5 801.3 L831.7 795.8 L849.8 785.8 L867.9 775.7 L886.0 767.6 L904.1 761.4 L922.2 757.3 L940.3 753.3 L958.4 749.5 L976.5 744.1 L994.6 735.3 L1012.8 730.3 L1030.9 723.7 L1049.0 717.6 L1067.1 714.0 L1085.2 710.2 L1103.3 706.3 L1121.4 702.0 L1139.5 696.5 L1157.6 691.6 L1175.8 683.8 L1193.9 679.5 L1212.0 675.5 L1230.1 669.0 L1248.2 663.0 L1266.3 656.3 L1284.4 652.4 L1302.5 649.1 L1320.6 645.8 L1338.7 641.0 L1356.8 635.9 L1375.0 629.9 L1393.1 625.0 L1411.2 619.3 L1429.3 615.1 L1447.4 612.1 L1465.5 609.3 L1483.6 605.6 L1501.7 601.1 L1519.8 596.4 L1538.0 590.6 L1556.1 586.5 L1574.2 584.2 L1592.3 580.2 L1610.4 575.7 L1628.5 570.3 L1646.6 566.2 L1664.7 561.8 L1682.8 558.3 L1700.9 555.1 L1719.0 552.6 L1737.2 549.7 L1755.3 545.8 L1773.4 541.8 L1791.5 537.2 L1809.6 532.7" fill="none" stroke="#FFFF00" stroke-width="6.4" stroke-linejoin="round" stroke-linecap="round"/>
<text x="1828.7" y="447.3" font-family='"Sarabun", "Liberation Sans", "Loma", "Noto Sans Thai", sans-serif' font-weight="500" font-size="27.0" fill="#F36EF5" textLength="137.3" lengthAdjust="spacingAndGlyphs">สหรัฐอเมริกา</text>
<text x="1832.0" y="484.7" font-family='"Sarabun", "Liberation Sans", "Loma", "Noto Sans Thai", sans-serif' font-weight="500" font-size="26.5" fill="#FFFF00" textLength="72.7" lengthAdjust="spacingAndGlyphs">บราซิล</text>
<text x="1835.0" y="514.7" font-family='"Sarabun", "Liberation Sans", "Loma", "Noto Sans Thai", sans-serif' font-weight="600" font-size="26.5" fill="#C8109A" textLength="65.0" lengthAdjust="spacingAndGlyphs">รัสเซีย</text>
<text x="1838.7" y="541.3" font-family='"Sarabun", "Liberation Sans", "Loma", "Noto Sans Thai", sans-serif' font-weight="500" font-size="26.5" fill="#1673EA" textLength="55.3" lengthAdjust="spacingAndGlyphs">สเปน</text>
<text x="1838.0" y="568.7" font-family='"Sarabun", "Liberation Sans", "Loma", "Noto Sans Thai", sans-serif' font-weight="500" font-size="26.5" fill="#46B884" textLength="177.3" lengthAdjust="spacingAndGlyphs">สหราชอาณาจักร</text>
<text x="1840.0" y="596.0" font-family='"Sarabun", "Liberation Sans", "Loma", "Noto Sans Thai", sans-serif' font-weight="500" font-size="26.5" fill="#1F4E79" textLength="56.7" lengthAdjust="spacingAndGlyphs">อิตาลี</text>
<text x="1839.3" y="650.7" font-family='"Sarabun", "Liberation Sans", "Loma", "Noto Sans Thai", sans-serif' font-weight="500" font-size="26.5" fill="#ED7D31" textLength="71.4" lengthAdjust="spacingAndGlyphs">อิหร่าน</text>
<text x="1843.3" y="677.3" font-family='"Sarabun", "Liberation Sans", "Loma", "Noto Sans Thai", sans-serif' font-weight="500" font-size="26.5" fill="#92E63C" textLength="28.7" lengthAdjust="spacingAndGlyphs">จีน</text>
<text x="1842.7" y="712.0" font-family='"Sarabun", "Liberation Sans", "Loma", "Noto Sans Thai", sans-serif' font-weight="500" font-size="26.5" fill="#00B050" textLength="80.6" lengthAdjust="spacingAndGlyphs">สิงคโปร์</text>
<text x="1842.7" y="740.7" font-family='"Sarabun", "Liberation Sans", "Loma", "Noto Sans Thai", sans-serif' font-weight="600" font-size="26.5" fill="#F9146E" textLength="112.6" lengthAdjust="spacingAndGlyphs">อินโดนีเซีย</text>
<text x="1843.3" y="772.0" font-family='"Sarabun", "Liberation Sans", "Loma", "Noto Sans Thai", sans-serif' font-weight="500" font-size="26.5" fill="#2E75B6" textLength="52.7" lengthAdjust="spacingAndGlyphs">ญี่ปุ่น</text>
<text x="1843.7" y="806.0" font-family='"Sarabun", "Liberation Sans", "Loma", "Noto Sans Thai", sans-serif' font-weight="600" font-size="27.0" fill="#002060" textLength="98.2" lengthAdjust="spacingAndGlyphs">ฟิลิปปินส์</text>
<text x="1844.5" y="833.7" font-family='"Sarabun", "Liberation Sans", "Loma", "Noto Sans Thai", sans-serif' font-weight="500" font-size="26.0" fill="#FFC000" textLength="91.2" lengthAdjust="spacingAndGlyphs">เกาหลีใต้</text>
<text x="1846.8" y="860.8" font-family='"Sarabun", "Liberation Sans", "Loma", "Noto Sans Thai", sans-serif' font-weight="500" font-size="26.0" fill="#0CB0F0" textLength="88.9" lengthAdjust="spacingAndGlyphs">มาเลเซีย</text>
<text x="1848.3" y="983.2" font-family='"Sarabun", "Liberation Sans", "Loma", "Noto Sans Thai", sans-serif' font-weight="500" font-size="26.0" fill="#7030A0" textLength="67.5" lengthAdjust="spacingAndGlyphs">ฮ่องกง</text>
<text x="1839.3" y="625.3" font-family='"Sarabun", "Liberation Sans", "Loma", "Noto Sans Thai", sans-serif' font-size="26.5" font-weight="500" fill="#595959" textLength="86" lengthAdjust="spacingAndGlyphs">ฝรั่งเศส/</text>
<text x="1926.7" y="625.3" font-family='"Sarabun", "Liberation Sans", "Loma", "Noto Sans Thai", sans-serif' font-size="26.5" font-weight="600" fill="#000000" textLength="80.6" lengthAdjust="spacingAndGlyphs">เยอรมัน</text>
<text x="1838.3" y="905.7" font-family='"Sarabun", "Liberation Sans", "Loma", "Noto Sans Thai", sans-serif' font-size="41" font-weight="500" fill="#FF0000" textLength="195.5" lengthAdjust="spacingAndGlyphs">ไทย 3,081</text>
<text x="1845.2" y="944.8" font-family='"Sarabun", "Liberation Sans", "Loma", "Noto Sans Thai", sans-serif' font-size="27" font-weight="600" fill="#FF0000" textLength="191.8" lengthAdjust="spacingAndGlyphs">(เพิ่มขึ้น 4 ราย)</text>
<g stroke="#4472C4" stroke-width="3.2" fill="#4472C4"><line x1="182" y1="1349.4" x2="748" y2="1349.4"/><line x1="769" y1="1349.4" x2="1330" y2="1349.4"/><line x1="1351" y1="1347" x2="1840" y2="1347"/><g stroke="none"><circle cx="182" cy="1349.4" r="8"/><circle cx="748" cy="1349.4" r="8"/><circle cx="769" cy="1349.4" r="8"/><circle cx="1330.4" cy="1349.4" r="8"/><circle cx="1350.6" cy="1346.8" r="8"/><path d="M1834 1337.5 L1851 1347 L1834 1356.5Z"/></g></g>
<text x="435.7" y="1384" font-family='"Sarabun", "Liberation Sans", "Loma", "Noto Sans Thai", sans-serif' font-size="23.5" fill="#262626" textLength="73.5" lengthAdjust="spacingAndGlyphs">มีนาคม</text>
<text x="1085.6" y="1384" font-family='"Sarabun", "Liberation Sans", "Loma", "Noto Sans Thai", sans-serif' font-size="23.5" fill="#262626" textLength="79.1" lengthAdjust="spacingAndGlyphs">เมษายน</text>
<text x="1594.0" y="1384" font-family='"Sarabun", "Liberation Sans", "Loma", "Noto Sans Thai", sans-serif' font-size="23.5" fill="#262626" textLength="106.0" lengthAdjust="spacingAndGlyphs">พฤษภาคม</text>
<!-- source + footer -->
<text class="th" x="19.4" y="1427.5" font-size="27.2" fill="#1a1a1a" textLength="895" lengthAdjust="spacingAndGlyphs">แหล่งข้อมูล: worldometers.info, กรมควบคุมโรค และสำนักงานการวิจัยแห่งชาติ (วช.)</text>
<rect x="0" y="1432.6" width="2048" height="67.4" fill="#FF0000"/>
<g class="th" font-size="34.8" font-weight="500" fill="#ffffff">
<text x="195" y="1480.4" textLength="823" lengthAdjust="spacingAndGlyphs">ศูนย์ปฏิบัติการด้านนวัตกรรมการแพทย์ และการวิจัยและพัฒนา</text>
<text x="1044" y="1480.4" textLength="44.4" lengthAdjust="spacingAndGlyphs">วช.</text>
<text x="1121.6" y="1480.4" textLength="734.4" lengthAdjust="spacingAndGlyphs">กระทรวงการอุดมศึกษา วิทยาศาสตร์ วิจัยและนวัตกรรม</text>
</g>
</svg>
</body>
</html>
